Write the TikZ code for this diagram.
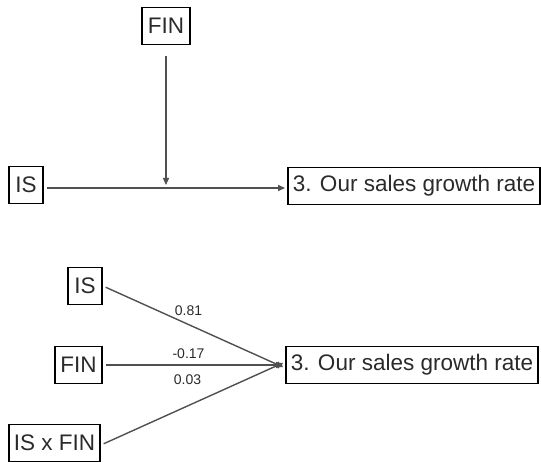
\documentclass[tikz,border=0pt]{standalone}
\usepackage{fontspec}
\setmainfont{Liberation Sans}
\usetikzlibrary{arrows.meta}
\definecolor{edgegray}{HTML}{505050}
\definecolor{textgray}{HTML}{2A2A2A}
\tikzset{
  varbox/.style={draw=black, line width=1.9pt, text=textgray, inner sep=0pt,
    minimum height=37pt, font=\fontsize{22.5}{24}\selectfont, anchor=center},
  path/.style={draw=edgegray, line width=1.4pt,
    -{Triangle[length=7pt,width=6pt]}},
  coef/.style={text=textgray, font=\fontsize{14}{16}\selectfont, inner sep=0pt}
}
\begin{document}
\begin{tikzpicture}[x=1pt,y=-1pt]
\useasboundingbox (0,0) rectangle (541,462);

% moderation sketch
\node[varbox, minimum width=48pt] (finA) at (166,26) {FIN};
\node[varbox, minimum width=34pt] (isA) at (26,185) {IS};
\node[varbox, minimum width=252pt] (yA) at (414,186) {3. Our sales growth rate};
\coordinate (mod) at (166,185);
\draw[path, shorten <=3pt, shorten >=2pt] (isA.east |- 0,188) -- (yA.west |- 0,188);
\draw[path, shorten <=11pt] (finA.south) -- (mod);

% estimated model
\node[varbox, minimum width=34pt] (isB) at (85,286) {IS};
\node[varbox, minimum width=47pt] (finB) at (78.5,365) {FIN};
\node[varbox, minimum width=91pt] (ixf) at (54.5,443) {IS x FIN};
\node[varbox, minimum width=252pt] (yB) at (412,365) {3. Our sales growth rate};

\draw[path, shorten <=3pt, shorten >=2pt] (isB.east) -- ([yshift=-3pt]yB.west)
  node[coef, pos=0.47, above=8pt] {0.81};
\draw[path, shorten <=3pt, shorten >=2pt] (finB.east) -- (yB.west)
  node[coef, pos=0.47, above=6pt] {-0.17};
\draw[path, shorten <=3pt, shorten >=2pt] ([yshift=-2pt]ixf.east) -- ([yshift=3pt]yB.west)
  node[coef, pos=0.47, above=21pt] {0.03};
\end{tikzpicture}
\end{document}
